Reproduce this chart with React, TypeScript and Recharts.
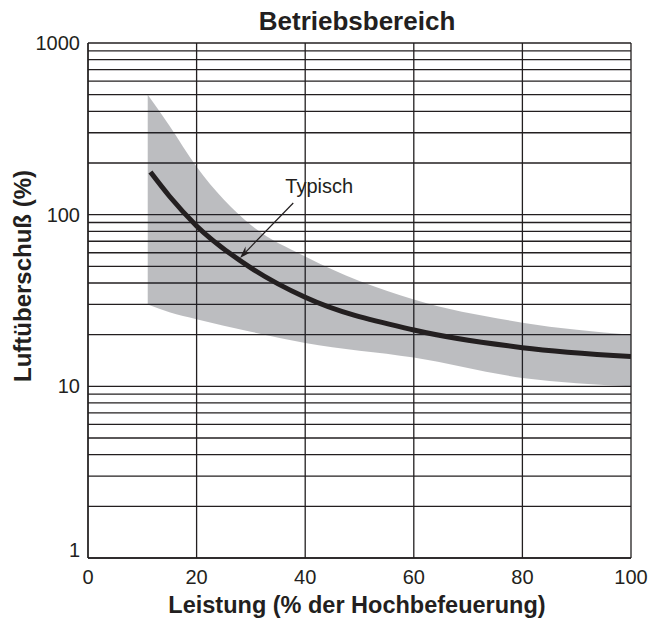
import React from 'react';
import {
  ComposedChart,
  Area,
  Line,
  XAxis,
  YAxis,
  CartesianGrid,
  ReferenceLine,
} from 'recharts';

// operating range band (percent load -> excess air %)
const bandLoad = [11, 15, 20, 30, 40, 60, 80, 100];
const bandHigh = [500, 330, 190, 87, 57, 32, 23.5, 20];
const bandLow = [30, 27, 24.6, 20.8, 17.9, 14.7, 11.2, 10];

// typical curve
const typicalLoad = [11.5, 15, 20, 30, 40, 60, 80, 100];
const typicalAir = [177, 128, 86, 49, 33, 21.3, 16.8, 14.9];

const xTicks = [0, 20, 40, 60, 80, 100];
const yTicks = [1, 2, 3, 4, 5, 6, 7, 8, 9, 10, 20, 30, 40, 50, 60, 70, 80, 90, 100, 200, 300, 400, 500, 600, 700, 800, 900, 1000];
const yLabels = [1, 10, 100, 1000];

// annotation arrow, in data units
const arrowFrom = { x: 37.8, y: 117 };
const arrowTo = { x: 28, y: 56 };

const bandData = bandLoad.map((x, i) => ({ x, range: [bandLow[i], bandHigh[i]] }));
const typicalData = typicalLoad.map((x, i) => ({ x, typ: typicalAir[i] }));

const FONT = '"Liberation Sans", Arial, Helvetica, sans-serif';
const INK = '#231f20';

const YTick = (props: any) => {
  const { x, y, payload } = props;
  if (!yLabels.includes(payload.value)) return <g />;
  return (
    <text x={x} y={y} dy={payload.value === 1 ? -1 : 7} textAnchor="end" fontSize={20} fill={INK} fontFamily={FONT}>
      {payload.value}
    </text>
  );
};

const XTick = (props: any) => {
  const { x, y, payload } = props;
  return (
    <text x={x} y={y} dy={14} textAnchor="middle" fontSize={20} fill={INK} fontFamily={FONT}>
      {payload.value}
    </text>
  );
};

// line with a small arrow head plus the "Typisch" label
const ArrowShape = (props: any) => {
  const { x1, y1, x2, y2 } = props;
  if (x1 == null || x2 == null) return <g />;
  const dx = x2 - x1;
  const dy = y2 - y1;
  const len = Math.sqrt(dx * dx + dy * dy);
  const ux = dx / len;
  const uy = dy / len;
  const hl = 12;
  const hw = 4;
  const bx = x2 - ux * hl;
  const by = y2 - uy * hl;
  const head = `${x2},${y2} ${bx - uy * hw},${by + ux * hw} ${x2 - ux * 8},${y2 - uy * 8} ${bx + uy * hw},${by - ux * hw}`;
  return (
    <g>
      <line x1={x1} y1={y1} x2={x2 - ux * 6} y2={y2 - uy * 6} stroke={INK} strokeWidth={1.2} />
      <polygon points={head} fill={INK} />
      <text x={x1 + 26} y={y1 - 10} textAnchor="middle" fontSize={20} fill={INK} fontFamily={FONT}>
        Typisch
      </text>
    </g>
  );
};

export default function App() {
  return (
    <div style={{ position: 'absolute', left: 0, top: 0, width: 648, height: 623, background: '#fff' }}>
      <ComposedChart
        width={648}
        height={623}
        data={bandData}
        margin={{ top: 43, right: 17, bottom: 35, left: 28 }}
      >
        <CartesianGrid stroke={INK} strokeWidth={1.3} horizontal vertical />
        <XAxis
          dataKey="x"
          type="number"
          domain={[0, 100]}
          ticks={xTicks}
          height={30}
          tickLine={false}
          tickSize={0}
          tickMargin={12}
          axisLine={{ stroke: INK, strokeWidth: 1.3 }}
          tick={<XTick />}
          allowDataOverflow
        />
        <YAxis
          type="number"
          scale="log"
          domain={[1, 1000]}
          ticks={yTicks}
          width={60}
          tickLine={false}
          tickSize={0}
          tickMargin={8}
          axisLine={{ stroke: INK, strokeWidth: 1.3 }}
          tick={<YTick />}
          interval={0}
          allowDataOverflow
        />
        <Area
          dataKey="range"
          type="monotone"
          stroke="none"
          fill="rgb(32,38,45)"
          fillOpacity={0.3}
          isAnimationActive={false}
        />
        <Line
          data={typicalData}
          dataKey="typ"
          type="monotone"
          stroke={INK}
          strokeWidth={5}
          dot={false}
          activeDot={false}
          isAnimationActive={false}
        />
        <ReferenceLine
          segment={[arrowFrom, arrowTo]}
          shape={<ArrowShape />}
          ifOverflow="visible"
        />
        <text x={357} y={30} textAnchor="middle" fontSize={26} fontWeight="bold" fill={INK} fontFamily={FONT}>
          Betriebsbereich
        </text>
        <text x={357} y={613} textAnchor="middle" fontSize={23.5} fontWeight="bold" fill={INK} fontFamily={FONT}>
          Leistung (% der Hochbefeuerung)
        </text>
        <text
          x={31}
          y={276}
          transform="rotate(-90, 31, 276)"
          textAnchor="middle"
          fontSize={24}
          fontWeight="bold"
          fill={INK}
          fontFamily={FONT}
        >
          Luftüberschuß (%)
        </text>
      </ComposedChart>
    </div>
  );
}
